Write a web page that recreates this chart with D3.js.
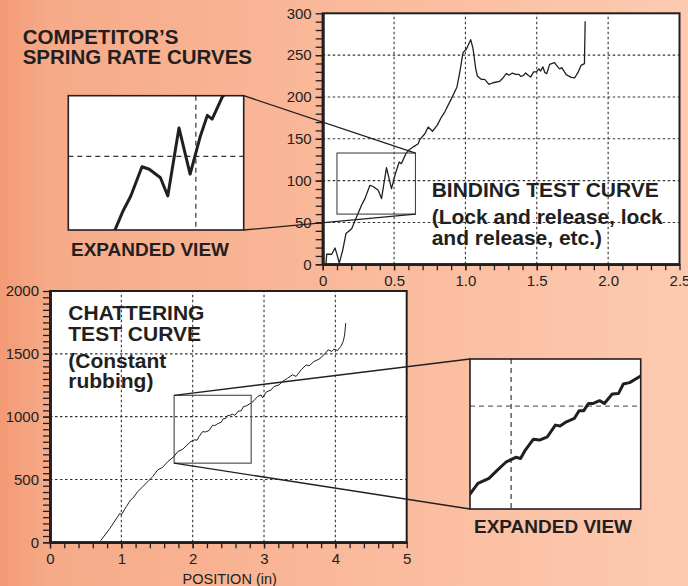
<!DOCTYPE html>
<html>
<head>
<meta charset="utf-8">
<script src="https://cdn.jsdelivr.net/npm/d3@7"></script>
<style>
  html, body { margin: 0; padding: 0; }
  body { width: 688px; height: 586px; overflow: hidden; }
  text { font-family: "Liberation Sans", Arial, Helvetica, sans-serif; fill: #231f20; }
</style>
</head>
<body>
<div class="chart"></div>
<script>
// binding test curve (top chart)
const bindingPos = [0.023, 0.028, 0.063, 0.086, 0.098, 0.116, 0.14, 0.163, 0.203, 0.233,
  0.272, 0.296, 0.331, 0.354, 0.389, 0.412, 0.447, 0.482, 0.513, 0.536,
  0.551, 0.583, 0.606, 0.641, 0.669, 0.68, 0.716, 0.739, 0.769, 0.802,
  0.832, 0.855, 0.902, 0.941, 0.965, 0.983, 1.006, 1.037, 1.053, 1.072,
  1.084, 1.112, 1.135, 1.165, 1.193, 1.24, 1.263, 1.287, 1.305, 1.329,
  1.352, 1.375, 1.387, 1.405, 1.422, 1.44, 1.457, 1.478, 1.497, 1.515,
  1.527, 1.543, 1.557, 1.57, 1.59, 1.624, 1.647, 1.66, 1.675, 1.706,
  1.741, 1.765, 1.788, 1.811, 1.834, 1.839];
const bindingRate = [1, 12, 12, 19.5, 13, 1.5, 16.7, 36.7, 42.6, 54.6,
  70.5, 78.5, 94.4, 93, 88.4, 78.5, 115.5, 90.4, 110.4, 122.3,
  120.3, 132.3, 137, 141, 144, 149, 156, 164, 159, 166,
  176, 182, 198, 212, 234, 253, 257, 268.5, 258, 234,
  225, 221, 221, 215, 217, 218.7, 222.7, 228, 226, 228.6,
  227, 227, 224.6, 225.5, 228.7, 226, 223.8, 229.9, 229.9, 233.5,
  231, 235.9, 229, 228, 239, 241, 236, 233.5, 235, 226.7,
  223.5, 222.7, 229, 237.8, 239.9, 290.4];

// chattering test curve (bottom chart)
const chatterPos = [0.71, 0.84, 0.98, 1.0, 1.07, 1.13, 1.16, 1.23, 1.30, 1.37,
  1.44, 1.51, 1.58, 1.65, 1.74, 1.79, 1.86, 1.91, 1.97, 2.03,
  2.06, 2.09, 2.14, 2.18, 2.23, 2.28, 2.31, 2.35, 2.40, 2.43,
  2.46, 2.49, 2.52, 2.56, 2.59, 2.64, 2.68, 2.71, 2.75, 2.82,
  2.86, 2.91, 2.96, 2.98, 3.03, 3.10, 3.14, 3.21, 3.26, 3.33,
  3.40, 3.45, 3.52, 3.59, 3.63, 3.70, 3.77, 3.84, 3.90, 3.95,
  3.98, 4.03, 4.075, 4.11, 4.13, 4.145];
const chatterRate = [13, 111, 231, 218, 284, 337, 350, 403, 443, 483,
  523, 576, 597, 642, 684, 722, 740, 768, 800, 816,
  812, 842, 881, 878, 890, 932, 929, 944, 956, 984,
  984, 1010, 1010, 1020, 1010, 1044, 1046, 1080, 1085, 1109,
  1128, 1160, 1173, 1150, 1195, 1213, 1240, 1253, 1280, 1306,
  1333, 1320, 1373, 1412, 1404, 1439, 1457, 1492, 1532, 1519,
  1537, 1526, 1558, 1598, 1650, 1744];

// tick labels
const bindingXTicks = [0, 0.5, 1.0, 1.5, 2.0, 2.5];
const bindingXLabels = ['0', '0.5', '1.0', '1.5', '2.0', '2.5'];
const bindingYTicks = [0, 50, 100, 150, 200, 250, 300];
const chatterXTicks = [0, 1, 2, 3, 4, 5];
const chatterYTicks = [0, 500, 1000, 1500, 2000];

// zoomed regions shown in the insets
const bindingZoomX = [0.1, 0.65];
const bindingZoomY = [60, 133];
const chatterZoomX = [1.74, 2.82];
const chatterZoomY = [630, 1170];

const W = 688, H = 586;
const ink = '#231f20';

const svg = d3.select('.chart').append('svg')
  .attr('width', W).attr('height', H);

// background gradient
const grad = svg.append('defs').append('linearGradient')
  .attr('id', 'bg').attr('x1', 0).attr('x2', 1).attr('y1', 0).attr('y2', 0);
grad.append('stop').attr('offset', '0%').attr('stop-color', '#f39a76');
grad.append('stop').attr('offset', '7%').attr('stop-color', '#f6aa88');
grad.append('stop').attr('offset', '50%').attr('stop-color', '#fab99b');
grad.append('stop').attr('offset', '100%').attr('stop-color', '#fdcab0');
svg.append('rect').attr('width', W).attr('height', H).attr('fill', 'url(#bg)');

const toPoints = (xs, ys) => xs.map((x, i) => [x, ys[i]]);

let clipId = 0;
function addClip(x, y, w, h) {
  const id = 'clip' + (clipId++);
  svg.select('defs').append('clipPath').attr('id', id)
    .append('rect').attr('x', x).attr('y', y).attr('width', w).attr('height', h);
  return `url(#${id})`;
}

// main chart: frame, grid, curve, axes with minor ticks
function drawChart(o) {
  const g = svg.append('g');
  const x = o.x, y = o.y;
  const [x0, x1] = x.range();
  const [y0, y1] = y.range();

  g.append('rect').attr('x', x0).attr('y', y1)
    .attr('width', x1 - x0).attr('height', y0 - y1)
    .attr('fill', '#fff');

  // dashed grid
  g.append('g').selectAll('line').data(o.xTicks.slice(1, -1)).join('line')
    .attr('x1', d => x(d)).attr('x2', d => x(d)).attr('y1', y0).attr('y2', y1)
    .attr('stroke', '#333').attr('stroke-width', 1.1).attr('stroke-dasharray', '2.5,2.5');
  g.append('g').selectAll('line').data(o.yTicks.slice(1, -1)).join('line')
    .attr('y1', d => y(d)).attr('y2', d => y(d)).attr('x1', x0).attr('x2', x1)
    .attr('stroke', '#333').attr('stroke-width', 1.1).attr('stroke-dasharray', '2.5,2.5');

  // curve
  g.append('path').datum(o.points)
    .attr('clip-path', addClip(x0, y1, x1 - x0, y0 - y1))
    .attr('d', d3.line().x(d => x(d[0])).y(d => y(d[1])))
    .attr('fill', 'none').attr('stroke', ink).attr('stroke-width', o.lineWidth)
    .attr('stroke-linejoin', 'round');

  // frame
  g.append('rect').attr('x', x0).attr('y', y1)
    .attr('width', x1 - x0).attr('height', y0 - y1)
    .attr('fill', 'none').attr('stroke', ink).attr('stroke-width', 2);

  // axes
  const xMinor = g.append('g').attr('transform', `translate(0,${y0})`)
    .call(d3.axisBottom(x).tickValues(o.xMinor).tickSize(6).tickSizeOuter(0).tickFormat(''));
  const xMajor = g.append('g').attr('transform', `translate(0,${y0})`)
    .call(d3.axisBottom(x).tickValues(o.xTicks).tickSize(6).tickSizeOuter(0)
      .tickPadding(5).tickFormat((d, i) => o.xLabels[i]));
  const yMinor = g.append('g').attr('transform', `translate(${x0},0)`)
    .call(d3.axisLeft(y).tickValues(o.yMinor).tickSize(7).tickSizeOuter(0).tickFormat(''));
  const yMajor = g.append('g').attr('transform', `translate(${x0},0)`)
    .call(d3.axisLeft(y).tickValues(o.yTicks).tickSize(7).tickSizeOuter(0).tickPadding(4)
      .tickFormat(d3.format('d')));

  [xMinor, xMajor, yMinor, yMajor].forEach(a => {
    a.select('.domain').attr('stroke', ink).attr('stroke-width', 2.6);
    a.selectAll('.tick line').attr('stroke', ink).attr('stroke-width', 1.3);
    a.selectAll('.tick text').attr('font-size', 15)
      .attr('font-family', '"Liberation Sans", Arial, sans-serif').attr('fill', ink);
  });
  return g;
}

// inset "expanded view"
function drawInset(o) {
  const g = svg.append('g');
  const b = o.box;
  const x = d3.scaleLinear().domain(o.zx).range([b.x, b.x + b.w]);
  const y = d3.scaleLinear().domain(o.zy).range([b.y + b.h, b.y]);

  g.append('rect').attr('x', b.x).attr('y', b.y).attr('width', b.w).attr('height', b.h)
    .attr('fill', '#fff');
  g.append('line').attr('x1', x(o.gridX)).attr('x2', x(o.gridX))
    .attr('y1', b.y).attr('y2', b.y + b.h)
    .attr('stroke', '#333').attr('stroke-width', 1.2).attr('stroke-dasharray', '5,4');
  g.append('line').attr('y1', y(o.gridY)).attr('y2', y(o.gridY))
    .attr('x1', b.x).attr('x2', b.x + b.w)
    .attr('stroke', o.gridYColor).attr('stroke-width', 1.2).attr('stroke-dasharray', '5,4');
  g.append('path').datum(o.points)
    .attr('clip-path', addClip(b.x, b.y, b.w, b.h))
    .attr('d', d3.line().x(d => x(d[0])).y(d => y(d[1])))
    .attr('fill', 'none').attr('stroke', ink).attr('stroke-width', 3)
    .attr('stroke-linejoin', 'round');
  g.append('rect').attr('x', b.x).attr('y', b.y).attr('width', b.w).attr('height', b.h)
    .attr('fill', 'none').attr('stroke', ink).attr('stroke-width', 1.6);
}

function zoomRect(xs, ys, zx, zy) {
  const r = { x0: xs(zx[0]), x1: xs(zx[1]), y0: ys(zy[1]), y1: ys(zy[0]) };
  svg.append('rect').attr('x', r.x0).attr('y', r.y0)
    .attr('width', r.x1 - r.x0).attr('height', r.y1 - r.y0)
    .attr('fill', 'none').attr('stroke', '#444').attr('stroke-width', 1.1);
  return r;
}

function connector(x1, y1, x2, y2) {
  svg.append('line').attr('x1', x1).attr('y1', y1).attr('x2', x2).attr('y2', y2)
    .attr('stroke', ink).attr('stroke-width', 1.3);
}

function textBlock(lines, x, baselines, size, weight, anchor) {
  lines.forEach((t, i) => {
    svg.append('text').attr('x', x).attr('y', baselines[i])
      .attr('font-size', size).attr('font-weight', weight)
      .attr('text-anchor', anchor || 'start').text(t);
  });
}

// ---------- top: binding test ----------
const xTop = d3.scaleLinear().domain([0, 2.5]).range([322.7, 679.5]);
const yTop = d3.scaleLinear().domain([0, 300]).range([264.3, 13.3]);
const bindingPts = toPoints(bindingPos, bindingRate);

drawChart({
  x: xTop, y: yTop, points: bindingPts, lineWidth: 1.3,
  xTicks: bindingXTicks, xLabels: bindingXLabels,
  yTicks: bindingYTicks,
  xMinor: d3.range(0, 25).map(i => i / 10),
  yMinor: d3.range(0, 30).map(i => i * 10)
});

const rTop = zoomRect(xTop, yTop, bindingZoomX, bindingZoomY);
const inset1 = { x: 68.3, y: 95.7, w: 175.4, h: 134.3 };
drawInset({
  box: inset1, zx: bindingZoomX, zy: bindingZoomY, points: bindingPts,
  gridX: 0.5, gridY: 100, gridYColor: '#333'
});
connector(inset1.x + inset1.w, inset1.y, rTop.x1, rTop.y0);
connector(inset1.x + inset1.w, inset1.y + inset1.h, rTop.x1, rTop.y1);

// ---------- bottom: chattering test ----------
const xBot = d3.scaleLinear().domain([0, 5]).range([50, 406.7]);
const yBot = d3.scaleLinear().domain([0, 2000]).range([542.3, 291]);
const chatterPts = toPoints(chatterPos, chatterRate);

drawChart({
  x: xBot, y: yBot, points: chatterPts, lineWidth: 1,
  xTicks: chatterXTicks, xLabels: chatterXTicks.map(String),
  yTicks: chatterYTicks,
  xMinor: d3.range(0, 25).map(i => i / 5),
  yMinor: d3.range(0, 40).map(i => i * 50)
});

const rBot = zoomRect(xBot, yBot, chatterZoomX, chatterZoomY);
const inset2 = { x: 470, y: 359, w: 170.7, h: 150 };
drawInset({
  box: inset2, zx: chatterZoomX, zy: chatterZoomY, points: chatterPts,
  gridX: 2, gridY: 1000, gridYColor: '#666'
});
connector(rBot.x0, rBot.y0, inset2.x, inset2.y);
connector(rBot.x0, rBot.y1, inset2.x, inset2.y + inset2.h);

// ---------- labels ----------
textBlock(['COMPETITOR\u2019S', 'SPRING RATE CURVES'], 22.7, [44.3, 64.3], 20.5, 'bold');
textBlock(['EXPANDED VIEW'], 71, [255.7], 19, 'bold');
textBlock(['BINDING TEST CURVE'], 431.7, [197.3], 21, 'bold');
textBlock(['(Lock and release, lock', 'and release, etc.)'], 431.7, [224, 245], 21, 'bold');
textBlock(['CHATTERING', 'TEST CURVE'], 68.3, [320, 341], 21, 'bold');
textBlock(['(Constant', 'rubbing)'], 68.3, [367.7, 388.3], 21, 'bold');
textBlock(['EXPANDED VIEW'], 474, [532.7], 19, 'bold');
textBlock(['POSITION (in)'], 229.7, [584.3], 14.5, 'normal', 'middle');
</script>
</body>
</html>
